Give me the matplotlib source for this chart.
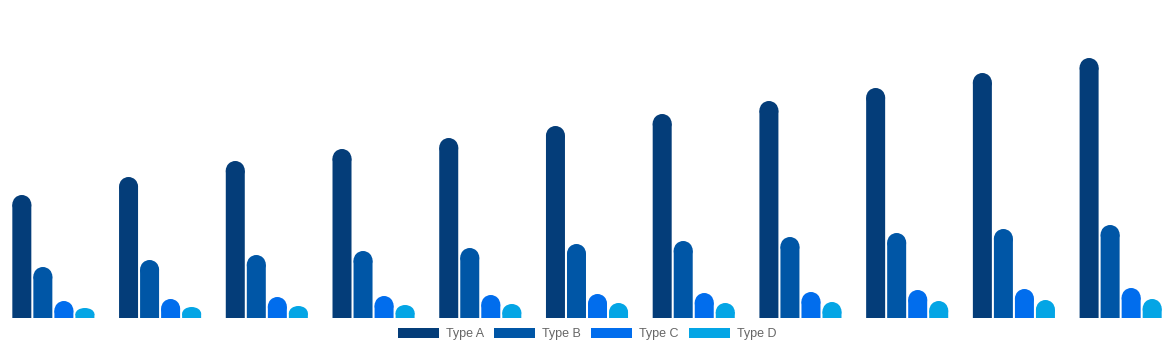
import numpy as np
import matplotlib.pyplot as plt
from matplotlib.patches import Ellipse, Patch

# values (px-like units)
groups = list(range(11))
type_a = [123, 141, 157, 169, 180, 192, 204, 217, 230, 245, 260]
type_b = [51, 58, 63, 67, 70, 74, 77, 81, 85, 89, 93]
type_c = [17, 19, 21, 22, 23, 24, 25, 26, 28, 29, 30]
type_d = [10, 11, 12, 13, 14, 15, 15, 16, 17, 18, 19]
labels = ["Type A", "Type B", "Type C", "Type D"]
colors = ["#043d79", "#0056a6", "#016ded", "#04a5e5"]

fig = plt.figure(figsize=(11.74, 3.5), dpi=100)
ax = fig.add_axes([0, 32 / 350, 1, 318 / 350])
ax.set_xlim(-0.5, 10.5)
ax.set_ylim(0, 318)
ax.axis("off")

step = 0.197
width = 0.178
x = np.array(groups)
for k, (vals, c) in enumerate(zip([type_a, type_b, type_c, type_d], colors)):
    vals = np.array(vals, dtype=float)
    r = np.minimum(9.5, vals * 0.6)   # top rounding in y units (px)
    xs = x + (k - 1.5) * step
    bars = ax.bar(xs, vals - r, width, color=c, linewidth=0)
    for b in bars:
        b.set_snap(False)
    for xi, v, ri in zip(xs, vals, r):
        ax.add_patch(Ellipse((xi, v - ri), width, 2 * ri, facecolor=c,
                             edgecolor="none", linewidth=0))

handles = [Patch(facecolor=c, edgecolor="none") for c in colors]
fig.legend(handles, labels, loc="center", bbox_to_anchor=(0.5, 1 - 334 / 350),
           ncol=4, frameon=False, handlelength=3.3, handleheight=0.9,
           handletextpad=0.55, columnspacing=0.8,
           prop={"family": "Liberation Sans", "size": 9}, labelcolor="#666666")

fig.savefig("out.png", dpi=100)
